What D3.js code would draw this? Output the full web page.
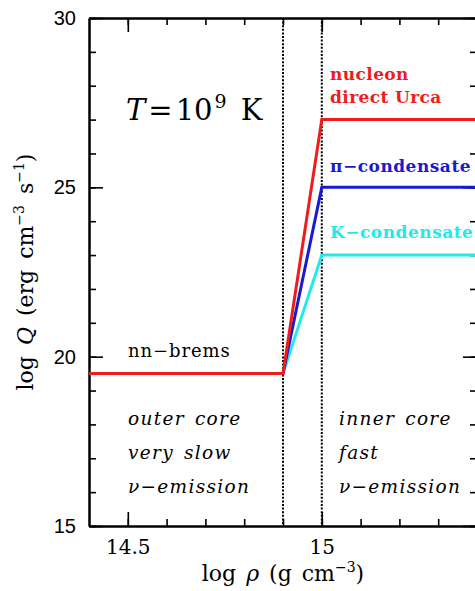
<!DOCTYPE html>
<html>
<head>
<meta charset="utf-8">
<script src="https://cdn.jsdelivr.net/npm/d3@7"></script>
<style>
  html, body { margin: 0; padding: 0; background: #fff; }
  svg { display: block; }
</style>
</head>
<body>
<svg id="chart" width="475" height="591"></svg>
<script>
// Neutrino emissivity vs. density at T = 1e9 K
const logRho = [14.4, 14.9, 15.0, 15.4];
const durcaQ = [19.5, 19.5, 27, 27];   // nucleon direct Urca (outer part = nn-brems)
const pionQ  = [19.5, 19.5, 25, 25];   // pi-condensate
const kaonQ  = [19.5, 19.5, 23, 23];   // K-condensate
const coreBoundaries = [14.9, 15.0];

const xMajor = [14.5, 15.0];
const xMinor = [14.5, 14.6, 14.7, 14.8, 14.9, 15.0, 15.1, 15.2, 15.3, 15.4];
const xTickLabels = ["14.5", "15"];
const yMajor = [15, 20, 25, 30];
const yMinor = d3.range(15, 31);
const yTickLabels = ["15", "20", "25", "30"];

const RED = "#ee1c1c", BLUE = "#1a1acc", CYAN = "#22eaea";

const svg = d3.select("#chart");
const x = d3.scaleLinear().domain([14.4, 15.4]).range([89, 477]);
const y = d3.scaleLinear().domain([15, 30]).range([526, 18]);

const serif = "'DejaVu Serif', serif";
const sans = "'Liberation Sans', Arial, sans-serif";

function styleAxis(g) {
  g.select(".domain").attr("stroke", "#000").attr("stroke-width", 2);
  g.selectAll(".tick line").attr("stroke", "#000").attr("stroke-width", 1.6);
}

// major + minor ticks on all four sides
const B = y.range()[0], T = y.range()[1], L = x.range()[0], R = x.range()[1];

svg.append("g").attr("transform", `translate(0,${B})`)
  .call(d3.axisBottom(x).tickValues(xMinor).tickSize(-7).tickSizeOuter(0).tickFormat(""))
  .call(styleAxis);
svg.append("g").attr("transform", `translate(0,${B})`)
  .call(d3.axisBottom(x).tickValues(xMajor).tickSize(-14).tickSizeOuter(0).tickPadding(14)
    .tickFormat((d, i) => xTickLabels[i]))
  .call(styleAxis)
  .call(g => g.selectAll("text").attr("font-family", serif).attr("font-size", 20).attr("fill", "#000"));
svg.append("g").attr("transform", `translate(0,${T})`)
  .call(d3.axisTop(x).tickValues(xMinor).tickSize(-7).tickSizeOuter(0).tickFormat(""))
  .call(styleAxis);
svg.append("g").attr("transform", `translate(0,${T})`)
  .call(d3.axisTop(x).tickValues(xMajor).tickSize(-14).tickSizeOuter(0).tickFormat(""))
  .call(styleAxis);

svg.append("g").attr("transform", `translate(${L},0)`)
  .call(d3.axisLeft(y).tickValues(yMinor).tickSize(-7).tickSizeOuter(0).tickFormat(""))
  .call(styleAxis);
svg.append("g").attr("transform", `translate(${L},0)`)
  .call(d3.axisLeft(y).tickValues(yMajor).tickSize(-14).tickSizeOuter(0).tickPadding(13)
    .tickFormat((d, i) => yTickLabels[i]))
  .call(styleAxis)
  .call(g => g.selectAll("text").attr("font-family", sans).attr("font-size", 20).attr("fill", "#000"));
svg.append("g").attr("transform", `translate(${R},0)`)
  .call(d3.axisRight(y).tickValues(yMinor).tickSize(-7).tickSizeOuter(0).tickFormat(""))
  .call(styleAxis);
svg.append("g").attr("transform", `translate(${R},0)`)
  .call(d3.axisRight(y).tickValues(yMajor).tickSize(-14).tickSizeOuter(0).tickFormat(""))
  .call(styleAxis);

// outer/inner core boundaries
svg.append("g").selectAll("line").data(coreBoundaries).join("line")
  .attr("x1", d => x(d)).attr("x2", d => x(d))
  .attr("y1", T).attr("y2", B)
  .attr("stroke", "#000").attr("stroke-width", 2)
  .attr("stroke-dasharray", "2,1.6");

// emissivity curves (red drawn last so it covers the shared outer-core segment)
const line = d3.line().x((d, i) => x(logRho[i])).y(d => y(d));
[[kaonQ, CYAN], [pionQ, BLUE], [durcaQ, RED]].forEach(([vals, col]) => {
  svg.append("path").datum(vals).attr("d", line)
    .attr("fill", "none").attr("stroke", col).attr("stroke-width", 3)
    .attr("stroke-linejoin", "miter");
});

// text helpers
function label(xv, yv, txt, opts = {}) {
  return svg.append("text")
    .attr("x", xv).attr("y", yv)
    .attr("font-family", opts.family || serif)
    .attr("font-size", opts.size || 17)
    .attr("font-weight", opts.weight || "normal")
    .attr("font-style", opts.style || "normal")
    .attr("letter-spacing", opts.spacing || 0)
    .attr("word-spacing", opts.wordSpacing || 0)
    .attr("fill", opts.fill || "#000")
    .text(txt);
}

// temperature
const tt = svg.append("text").attr("x", 126).attr("y", 120)
  .attr("font-family", serif).attr("font-size", 29).attr("fill", "#000");
tt.append("tspan").attr("font-style", "italic").text("T");
tt.append("tspan").attr("dx", 3).text("=");
tt.append("tspan").attr("dx", 3).text("10");
tt.append("tspan").attr("font-size", 19).attr("dy", -12).attr("dx", 2).text("9");
tt.append("tspan").attr("dy", 12).attr("dx", 14).text("K");

// curve labels
label(330, 80, "nucleon", { fill: RED, weight: "bold", size: 17, spacing: 0.4 });
label(330, 103, "direct Urca", { fill: RED, weight: "bold", size: 17, spacing: 0.4 });
label(330, 172, "π−condensate", { fill: BLUE, weight: "bold", size: 17, spacing: 0.5 });
label(330, 238, "K−condensate", { fill: CYAN, weight: "bold", size: 17, spacing: 0.5 });
label(128, 357, "nn−brems", { size: 18, spacing: 0.9 });

// region descriptions
const outer = ["outer core", "very slow", "ν−emission"];
const inner = ["inner core", "fast", "ν−emission"];
const rowY = [18, 17, 16];
const descStyle = { style: "italic", size: 18.5, spacing: 1.3, wordSpacing: 3 };
outer.forEach((t, i) => label(128, y(rowY[i]) + 1, t, descStyle));
inner.forEach((t, i) => label(339, y(rowY[i]) + 1, t, descStyle));

// axis titles
const xt = svg.append("text").attr("x", (L + R) / 2).attr("y", 581)
  .attr("text-anchor", "middle").attr("font-family", serif).attr("font-size", 22)
  .attr("word-spacing", 3).attr("fill", "#000");
xt.append("tspan").text("log ");
xt.append("tspan").attr("font-style", "italic").text("ρ");
xt.append("tspan").text(" (g cm");
xt.append("tspan").attr("font-size", 14).attr("dy", -9).text("−3");
xt.append("tspan").attr("dy", 9).text(")");

const yt = svg.append("text")
  .attr("transform", `translate(33,${(T + B) / 2}) rotate(-90)`)
  .attr("text-anchor", "middle").attr("font-family", serif).attr("font-size", 22)
  .attr("word-spacing", 4).attr("fill", "#000");
yt.append("tspan").text("log ");
yt.append("tspan").attr("font-style", "italic").text("Q");
yt.append("tspan").text(" (erg cm");
yt.append("tspan").attr("font-size", 14).attr("dy", -9).text("−3");
yt.append("tspan").attr("dy", 9).text(" s");
yt.append("tspan").attr("font-size", 14).attr("dy", -9).text("−1");
yt.append("tspan").attr("dy", 9).text(")");
</script>
</body>
</html>
